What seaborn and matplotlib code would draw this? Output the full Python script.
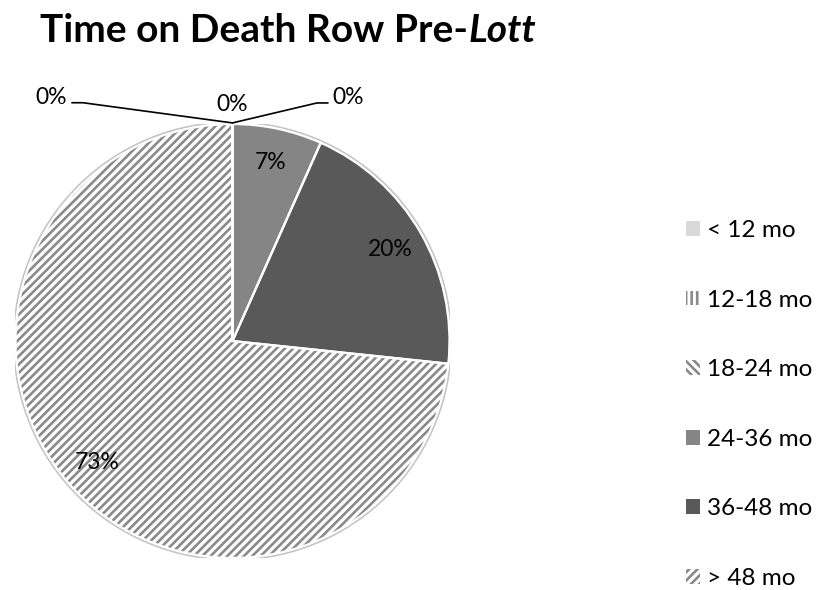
import numpy as np
import matplotlib
matplotlib.use("Agg")
import matplotlib.pyplot as plt
from matplotlib.patches import Patch, Circle
import seaborn as sns

# data (counts of inmates per time bucket)
categories = ["< 12 mo", "12-18 mo", "18-24 mo", "24-36 mo", "36-48 mo", "> 48 mo"]
inmates = [0, 0, 0, 1, 3, 11]

# styling per slice (greyscale office look)
fills = ["#d9d9d9", "#ffffff", "#ffffff", "#858585", "#595959", "#ffffff"]
hatches = [None, "|||", "\\\\\\\\", None, None, "////"]
hatch_grey = "#8a8a8a"

sns.set_theme(style="white")
plt.rcParams["font.family"] = ["Lato", "DejaVu Sans"]
plt.rcParams["text.color"] = "black"
plt.rcParams["hatch.linewidth"] = 1.9

fig = plt.figure(figsize=(8.19, 5.90), dpi=100)
W, H = 819, 590
cx, cy, R = 232.5, 341, 217
ax = fig.add_axes([(cx - R) / W, (H - cy - R) / H, 2 * R / W, 2 * R / H])

wedges, texts, autotexts = ax.pie(
    inmates, startangle=90, counterclock=False, colors=fills,
    autopct=lambda p: f"{p:.0f}%", pctdistance=0.84,
    wedgeprops=dict(linewidth=0),
    textprops=dict(fontsize=16.5, color="black"))
for w, h in zip(wedges, hatches):
    if h:
        w.set_hatch(h)
        w.set_edgecolor(hatch_grey)
        w.set_linewidth(0)

# white separators drawn on top
ax.pie(inmates, startangle=90, counterclock=False, colors=["none"] * len(inmates),
       wedgeprops=dict(fill=False, edgecolor="white", linewidth=1.6))
ax.add_patch(Circle((0, 0), 1.008, fill=False, edgecolor="#c4c4c4", linewidth=1.4, zorder=0))

ax.set_xlim(-1, 1)
ax.set_ylim(-1, 1)
ax.axis("off")

#Zero slices get their labels pulled out with leader lines, like the original
label_spots = [(-0.836, 1.12), (0.0, 1.088), (0.532, 1.12)]
zero_idx = [i for i, v in enumerate(inmates) if v == 0]
for k, i in enumerate(zero_idx):
    autotexts[i].set_visible(False)
    ang = np.deg2rad(wedges[i].theta1)
    ax0, ay0 = np.cos(ang) * 1.005, np.sin(ang) * 1.005
    lx, ly = label_spots[k]
    ax.text(lx, ly, autotexts[i].get_text(), ha="center", va="center",
            fontsize=16.5, color="black", clip_on=False)
    if lx < -0.1:
        ax.plot([lx + 0.096, lx + 0.147, ax0], [ly - 0.022, ly - 0.022, ay0],
                color="black", lw=1.2, clip_on=False)
    elif lx > 0.1:
        ax.plot([ax0, lx - 0.143, lx - 0.092], [ay0, ly - 0.023, ly - 0.023],
                color="black", lw=1.2, clip_on=False)

handles = []
for f, h in zip(fills, hatches):
    handles.append(Patch(facecolor=f, hatch=h, edgecolor=hatch_grey if h else f, linewidth=0))
fig.legend(handles, categories, loc="upper left", bbox_to_anchor=(686 / W, 1 - 220 / H),
           frameon=False, fontsize=17.5, handlelength=0.58, handleheight=0.56,
           handletextpad=0.28, labelspacing=2.0, borderpad=0, borderaxespad=0)

t1 = fig.text(40 / W, 1 - 42 / H, "Time on Death Row Pre-", fontsize=28,
              fontweight="bold", va="baseline", color="black")
fig.canvas.draw()
bb = t1.get_window_extent()
fig.text(bb.x1 / W, 1 - 42 / H, "Lott", fontsize=28, fontweight="bold",
         style="italic", va="baseline", color="black")

fig.savefig("out.png", dpi=100)
